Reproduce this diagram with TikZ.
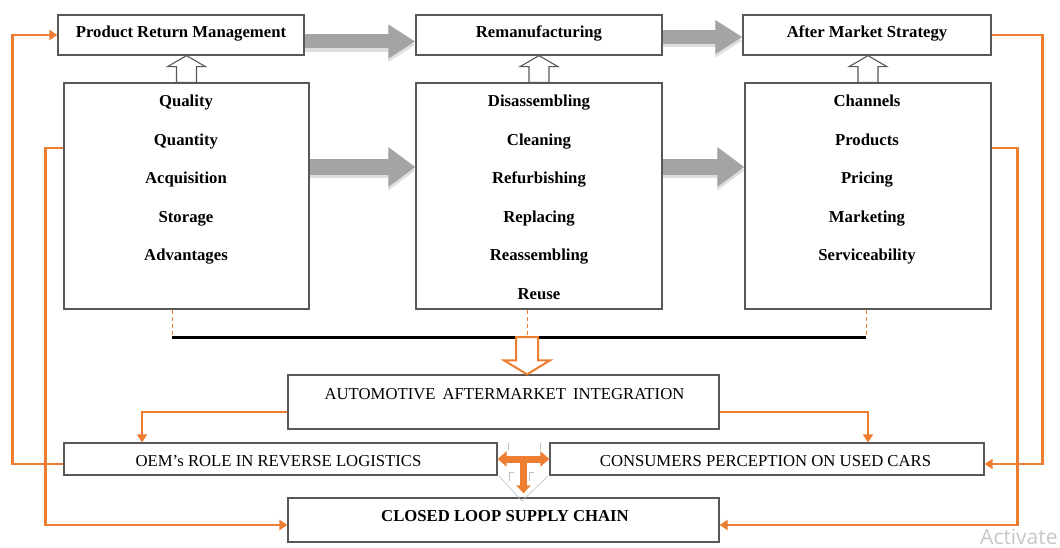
\documentclass[tikz,border=0pt]{standalone}
\usepackage{fontspec}
\setmainfont{Liberation Serif}
\newfontfamily\markfont{Open Sans}
\usetikzlibrary{arrows.meta,calc}

\definecolor{linkorange}{RGB}{237,125,49}
\definecolor{framegray}{RGB}{88,88,88}
\definecolor{flowgray}{RGB}{164,164,164}

\begin{document}
\begin{tikzpicture}[x=1pt,y=-1pt,
  panel/.style={draw=framegray, line width=1.3pt, fill=white, inner sep=0pt},
  txt/.style={font=\fontsize{16.7}{20}\selectfont, anchor=base, inner sep=0pt},
  boldtxt/.style={font=\bfseries\fontsize{16.7}{20}\selectfont, anchor=base, inner sep=0pt},
  flowsmall/.style={draw=flowgray, line width=14pt, -{Triangle[length=27pt,width=32pt]}},
  flowbig/.style={draw=flowgray, line width=16pt, -{Triangle[length=27pt,width=38pt]}},
  flowshade/.style={draw=black!13},
  hollowup/.style={draw=framegray, line width=1.1pt, fill=white},
  hollowdown/.style={draw=linkorange, line width=2pt, fill=white},
  orangelink/.style={draw=linkorange, line width=2.6pt, -{Triangle[length=8pt,width=10pt]}},
  dashlink/.style={draw=linkorange, line width=1pt, dash pattern=on 4pt off 3pt},
  mainbar/.style={draw=black, line width=3pt},
  tbar/.style={draw=linkorange, line width=7pt},
]
\useasboundingbox (0,0) rectangle (1060,548);
\fill[white] (0,0) rectangle (1060,548);

% ---------- top row: stage titles ----------
\node[panel, minimum width=246pt, minimum height=40pt] (prm) at (181,35) {};
\node[panel, minimum width=246pt, minimum height=40pt] (rem) at (539,35) {};
\node[panel, minimum width=248pt, minimum height=40pt] (ams) at (867,35) {};
\node[boldtxt] (prmtxt) at (181,38) {Product Return Management};
\node[boldtxt] (remtxt) at (539,38) {Remanufacturing};
\node[boldtxt] (amstxt) at (867,38) {After Market Strategy};

% ---------- second row: activity lists ----------
\node[panel, minimum width=245pt, minimum height=226pt] (lq) at (186.5,196) {};
\node[panel, minimum width=246pt, minimum height=226pt] (ld) at (539,196) {};
\node[panel, minimum width=246pt, minimum height=226pt] (lr) at (868,196) {};

\foreach \t [count=\i] in {Quality,Quantity,Acquisition,Storage,Advantages}
  \node[boldtxt] (q\i) at (186,{106.5+38.6*(\i-1)}) {\t};
\foreach \t [count=\i] in {Disassembling,Cleaning,Refurbishing,Replacing,Reassembling,Reuse}
  \node[boldtxt] (d\i) at (539,{106.5+38.6*(\i-1)}) {\t};
\foreach \t [count=\i] in {Channels,Products,Pricing,Marketing,Serviceability}
  \node[boldtxt] (r\i) at (867,{106.5+38.6*(\i-1)}) {\t};

% ---------- grey flow arrows between stages ----------
\begin{scope}[transform canvas={yshift=-3.5pt}]
  \draw[flowsmall, flowshade] ([yshift=-6.5pt]prm.east) -- ([yshift=-6.5pt]rem.west);
  \draw[flowsmall, flowshade] ([yshift=-2pt]rem.east) -- ([yshift=-2pt]ams.west);
  \draw[flowbig, flowshade] ([yshift=29pt]lq.east) -- ([yshift=29pt]ld.west);
  \draw[flowbig, flowshade] ([yshift=29pt]ld.east) -- ([yshift=29pt]lr.west);
\end{scope}
\draw[flowsmall] ([yshift=-6.5pt]prm.east) -- ([yshift=-6.5pt]rem.west);
\draw[flowsmall] ([yshift=-2pt]rem.east) -- ([yshift=-2pt]ams.west);
\draw[flowbig] ([yshift=29pt]lq.east) -- ([yshift=29pt]ld.west);
\draw[flowbig] ([yshift=29pt]ld.east) -- ([yshift=29pt]lr.west);

% ---------- hollow arrows from each list up to its title ----------
\foreach \src/\dst in {lq/prm, ld/rem, lr/ams}
  \draw[hollowup] let \p1=(\src.north), \p2=(\dst.south) in
    (\x1-10pt,\y1) -- (\x1-10pt,\y2-11pt) -- (\x1-19pt,\y2-11pt) -- (\x1,\y2)
    -- (\x1+19pt,\y2-11pt) -- (\x1+10pt,\y2-11pt) -- (\x1+10pt,\y1) -- cycle;

% ---------- collecting bar ----------
\coordinate (barw) at (172,337);
\coordinate (barm) at (527,337);
\coordinate (bare) at (866,337);
\draw[dashlink] (lq.south -| barw) -- (barw);
\draw[dashlink] (ld.south -| barm) -- (barm);
\draw[dashlink] (lr.south -| bare) -- (bare);
\draw[mainbar] (barw) -- (bare);

% ---------- lower boxes ----------
\node[panel, minimum width=431pt, minimum height=54pt] (aai) at (503.5,402) {};
\node[panel, minimum width=433pt, minimum height=32pt] (oem) at (280.5,459) {};
\node[panel, minimum width=434pt, minimum height=32pt] (cons) at (767,459) {};
\node[panel, minimum width=431pt, minimum height=44pt] (clsc) at (503.5,520) {};
\node[txt] (aaitxt) at (504.5,399) {AUTOMOTIVE\hspace{0.42em}AFTERMARKET\hspace{0.42em}INTEGRATION};
\node[txt] (oemtxt) at (278.5,466) {OEM's ROLE IN REVERSE LOGISTICS};
\node[txt] (constxt) at (765.5,466) {CONSUMERS PERCEPTION ON USED CARS};
\node[boldtxt] (clsctxt) at (505,521) {CLOSED LOOP SUPPLY CHAIN};

% hollow orange arrow from the bar down to the integration box
\draw[hollowdown] let \p1=(barm), \p2=(barm |- aai.north) in
  (\x1-11pt,\y1) -- (\x1-11pt,\y2+14pt) -- (\x1-23pt,\y2+14pt) -- (\x1,\y2)
  -- (\x1+23pt,\y2+14pt) -- (\x1+11pt,\y2+14pt) -- (\x1+11pt,\y1) -- cycle;

% ---------- orange links ----------
\draw[orangelink] ([yshift=-10pt]aai.west) -| ([xshift=-138.5pt]oem.north);
\draw[orangelink] ([yshift=-10pt]aai.east) -| ([xshift=101pt]cons.north);
\draw[orangelink] ([yshift=-5pt]oem.west) -- ++(-51,0) |- (prm.west);
\draw[orangelink] ([yshift=48pt]lq.west) -- ++(-18,0) |- ([yshift=-5pt]clsc.west);
\draw[orangelink] (ams.east) -- ++(51,0) |- ([yshift=-5pt]cons.east);
\draw[orangelink] ([yshift=48pt]lr.east) -- ++(26,0) |- ([yshift=-5pt]clsc.east);

% ---------- orange junction between the two middle boxes ----------
\draw[black!25, line width=0.6pt] (499,476) -- (522,501) -- (548,476);
\draw[black!25, line width=0.6pt] (508,443) -- (508,450) (540,443) -- (540,450);
\draw[black!25, line width=0.6pt] (509,481) -- (509,472) -- (514,472) (529,481) -- (529,472) -- (534,472);
\coordinate (tjoin) at ($(oem.east)!0.5!(cons.west)$);
\draw[tbar, {Triangle[length=9pt,width=15pt]}-{Triangle[length=9pt,width=15pt]}] (oem.east) -- (cons.west);
\draw[tbar, -{Triangle[length=8pt,width=14pt]}, shorten >=4pt] (tjoin) -- (tjoin |- clsc.north);

% ---------- watermark at the corner ----------
\node[anchor=base west, inner sep=0pt, text=black!22, font=\markfont\fontsize{21}{25}\selectfont] (wm) at (980,544) {Activate};
\end{tikzpicture}
\end{document}
